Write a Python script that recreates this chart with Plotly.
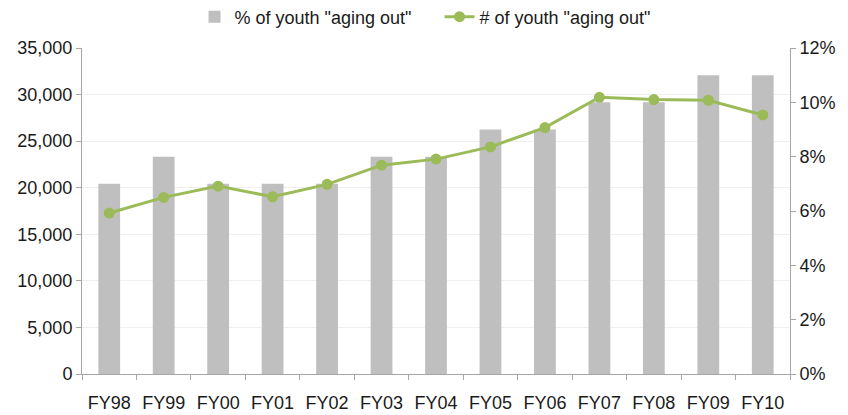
import plotly.graph_objects as go

# data
years = ['FY98', 'FY99', 'FY00', 'FY01', 'FY02', 'FY03', 'FY04',
         'FY05', 'FY06', 'FY07', 'FY08', 'FY09', 'FY10']
pct_aging_out = [0.07, 0.08, 0.07, 0.07, 0.07, 0.08, 0.08,
                 0.09, 0.09, 0.10, 0.10, 0.11, 0.11]
num_aging_out = [17280, 18960, 20170, 19030, 20360, 22420, 23070,
                 24380, 26460, 29710, 29460, 29390, 27810]

axis_grey = '#A6A6A6'
fnt = dict(family='Liberation Sans, Arial, sans-serif', size=18, color='#1a1a1a')

fig = go.Figure()

fig.add_trace(go.Bar(
    x=years, y=pct_aging_out, name='% of youth "aging out"',
    marker=dict(color='#BFBFBF', line=dict(width=0)),
    yaxis='y'))

fig.add_trace(go.Scatter(
    x=years, y=num_aging_out, name='# of youth "aging out"',
    mode='lines+markers',
    line=dict(color='#9BBB59', width=3),
    marker=dict(color='#9BBB59', size=11),
    yaxis='y2'))

fig.update_layout(
    width=848, height=415,
    margin=dict(l=82, r=58, t=48, b=41, autoexpand=False),
    paper_bgcolor='white', plot_bgcolor='white',
    font=fnt,
    bargap=0.6,
    showlegend=True,
    legend=dict(orientation='h', x=0.505, xanchor='center', y=1.095, yanchor='middle',
                font=dict(size=18), traceorder='normal',
                entrywidth=200, entrywidthmode='pixels'),
    xaxis=dict(type='category', range=[-0.5, len(years) - 0.5],
               showline=True, linecolor=axis_grey, linewidth=1,
               ticks='outside', tickson='boundaries', ticklen=5, tickcolor=axis_grey,
               ticklabelstandoff=12,
               showgrid=False, automargin=False),
    yaxis=dict(side='right', range=[0, 0.12], dtick=0.02, tickformat='.0%',
               showgrid=False, showline=True, linecolor=axis_grey, linewidth=1,
               ticks='outside', ticklen=5, tickcolor=axis_grey, zeroline=False,
               automargin=False),
    yaxis2=dict(side='left', overlaying='y', range=[0, 35000], dtick=5000,
                tickformat=',', showgrid=True, gridcolor='#EFEFEF', gridwidth=1,
                showline=True, linecolor=axis_grey, linewidth=1,
                ticks='outside', ticklen=5, tickcolor=axis_grey, zeroline=False,
                automargin=False),
)

# page body has a default 8px margin; drop it so the chart sits at 0,0
fig.write_html('out.html', config={'displayModeBar': False},
               post_script="document.body.style.margin='0px';")
